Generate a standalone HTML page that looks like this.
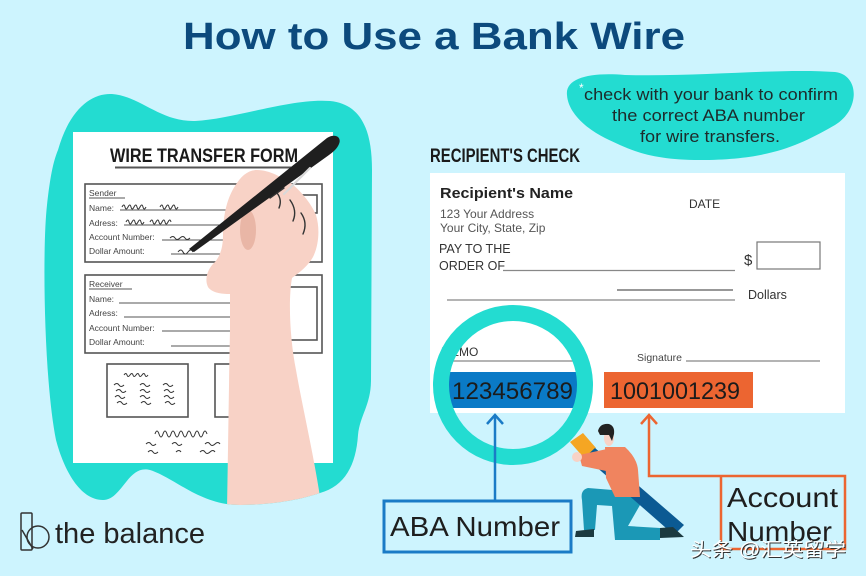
<!DOCTYPE html>
<html><head><meta charset="utf-8"><style>
html,body{margin:0;padding:0;background:#cdf4fe;}
svg{display:block;}
text{font-family:"Liberation Sans","Noto Sans CJK SC",sans-serif;}
</style></head><body>
<svg width="866" height="576" viewBox="0 0 866 576" xmlns="http://www.w3.org/2000/svg">
<defs>
<clipPath id="blobclip"><path d="M58,150 C70,108 92,93 112,94 C140,96 160,122 195,121 C235,119 290,98 330,101 C360,104 372,128 372,170 L371,380 C371,405 360,415 358,435 C356,465 345,486 320,493 C300,500 270,505 240,505 C200,505 175,478 150,470 C128,464 122,500 103,500 C80,500 64,470 56,440 C44,380 42,250 47,205 C50,178 53,162 58,150 Z"/></clipPath>
</defs>
<rect width="866" height="576" fill="#cdf4fe"/>

<!-- Title -->
<text x="183" y="49" font-size="38" font-weight="bold" fill="#0c4a7d" textLength="502" lengthAdjust="spacingAndGlyphs">How to Use a Bank Wire</text>

<!-- Left teal blob -->
<path d="M58,150 C70,108 92,93 112,94 C140,96 160,122 195,121 C235,119 290,98 330,101 C360,104 372,128 372,170 L371,380 C371,405 360,415 358,435 C356,465 345,486 320,493 C300,500 270,505 240,505 C200,505 175,478 150,470 C128,464 122,500 103,500 C80,500 64,470 56,440 C44,380 42,250 47,205 C50,178 53,162 58,150 Z" fill="#23dcd1"/>

<!-- Form paper -->
<rect x="73" y="132" width="260" height="331" fill="#ffffff"/>
<text x="110" y="162" font-size="19" font-weight="bold" fill="#1a1a1a" textLength="188" lengthAdjust="spacingAndGlyphs">WIRE TRANSFER FORM</text>
<line x1="115" y1="167.5" x2="293" y2="167.5" stroke="#555" stroke-width="2"/>

<g fill="none" stroke="#555" stroke-width="1.6">
<rect x="85" y="184" width="237" height="78"/>
<rect x="297" y="195" width="20" height="18"/>
<rect x="85" y="275" width="237" height="78"/>
<rect x="280" y="287" width="37" height="53"/>
<rect x="107" y="364" width="81" height="53"/>
<rect x="215" y="364" width="40" height="53"/>
</g>
<g font-size="8.5" fill="#444">
<text x="89" y="196">Sender</text>
<text x="89" y="211">Name:</text>
<text x="89" y="226">Adress:</text>
<text x="89" y="240">Account Number:</text>
<text x="89" y="254">Dollar Amount:</text>
<text x="89" y="287">Receiver</text>
<text x="89" y="302">Name:</text>
<text x="89" y="316">Adress:</text>
<text x="89" y="331">Account Number:</text>
<text x="89" y="345">Dollar Amount:</text>
</g>
<g stroke="#555" stroke-width="1">
<line x1="89" y1="198" x2="125" y2="198"/>
<line x1="89" y1="289" x2="132" y2="289"/>
<line x1="120" y1="210" x2="235" y2="210"/>
<line x1="124" y1="225" x2="235" y2="225"/>
<line x1="162" y1="240" x2="235" y2="240"/>
<line x1="171" y1="254" x2="235" y2="254"/>
<line x1="119" y1="303" x2="235" y2="303"/>
<line x1="124" y1="317" x2="235" y2="317"/>
<line x1="162" y1="331" x2="235" y2="331"/>
<line x1="171" y1="346" x2="235" y2="346"/>
</g>
<!-- scribbles -->
<g fill="none" stroke="#333" stroke-width="1">
<path d="M122,207 q2,-4 3,0 t3,0 t3,0 t3,0 t3,0 t3,0 t3,0 t3,0"/>
<path d="M160,207 q2,-4 3,0 t3,0 t3,0 t3,0 t3,0 t3,0"/>
<path d="M126,222 q2,-4 3,0 t3,0 t3,0 t3,0 t3,0 t3,0"/>
<path d="M150,222 q2,-4 3,0 t3,0 t3,0 t3,0 t3,0 t3,0 t3,0"/>
<path d="M170,238 q3,-3 5,0 t5,0 t5,0 t5,0"/>
<path d="M178,252 q3,-4 5,0 t5,0 t5,0"/>
<path d="M124,375 q2,-3 3,0 t3,0 t3,0 t3,0 t3,0 t3,0 t3,0 t3,0"/>
<path d="M114,385 q3,-3 5,0 t5,0"/><path d="M140,385 q3,-3 5,0 t5,0"/><path d="M163,385 q3,-3 5,0 t5,0"/>
<path d="M116,391 q3,-3 5,0 t5,0"/><path d="M140,391 q3,-3 5,0 t5,0"/><path d="M164,391 q3,-3 5,0 t5,0"/>
<path d="M115,397 q3,-3 5,0 t5,0"/><path d="M140,397 q3,-3 5,0 t5,0"/><path d="M164,397 q3,-3 5,0 t5,0"/>
<path d="M117,403 q3,-3 5,0 t5,0"/><path d="M141,403 q3,-3 5,0 t5,0"/><path d="M165,403 q3,-3 5,0 t5,0"/>
<path d="M155,434 q2,-6 4,0 t4,0 t4,0 t4,0 t4,0 t4,0 t4,0 t4,0 t4,0 t4,0 t4,0 t4,0 t4,0"/>
<path d="M146,444 q3,-3 5,0 t5,0"/><path d="M172,444 q3,-3 5,0 t5,0"/><path d="M205,444 q3,-3 5,0 t5,0 t5,0"/>
<path d="M148,452 q3,-3 5,0 t5,0"/><path d="M176,452 q3,-3 5,0"/><path d="M200,452 q3,-3 5,0 t5,0 t5,0"/>
</g>

<!-- Arm & hand -->
<g clip-path="url(#blobclip)">
<path d="M257,170 C270,170 283,178 292,184 C302,192 312,205 316,215 C320,228 319,245 313,257 C308,266 300,272 292,278 C288,300 290,340 296,370 C303,410 315,460 322,510 L227,510 C228,450 229,380 230,330 L230,294 C222,294 212,293 208,287 C204,279 208,268 215,262 C220,256 223,248 223,235 C223,218 226,200 235,186 C241,176 248,170 257,170 Z" fill="#f8d2c6"/>
</g>
<ellipse cx="248" cy="230" rx="8" ry="20" fill="#e9b6a6"/>
<g fill="none" stroke="#333" stroke-width="1.4" stroke-linecap="round">
<path d="M277,193 C281,198 281,203 279,208"/>
<path d="M290,200 C295,207 296,214 293,221"/>
<path d="M301,213 C306,220 306,227 303,234"/>
<path d="M270,198 L284,188"/>
</g>
<!-- Pen -->
<path d="M189,249 L327,138 C335,133 342,137 339,144 C337,149 333,152 329,155 L194,252 Z" fill="#1f1f1f"/>
<path d="M284,194 L310,168" stroke="#d9d9d9" stroke-width="2.2" stroke-linecap="round"/>

<!-- Speech bubble -->
<path d="M567,95 C565,78 590,72 625,75 C700,77 780,68 835,72 C860,75 860,110 835,125 C800,145 770,160 700,160 C650,160 630,150 605,138 C585,128 568,112 567,95 Z" fill="#23dcd1"/>
<text x="579" y="92" font-size="12" fill="#ffffff">*</text>
<g font-size="17" fill="#1d2b2b">
<text x="584" y="100" textLength="254" lengthAdjust="spacingAndGlyphs">check with your bank to confirm</text>
<text x="612" y="121" textLength="193" lengthAdjust="spacingAndGlyphs">the correct ABA number</text>
<text x="640" y="142" textLength="140" lengthAdjust="spacingAndGlyphs">for wire transfers.</text>
</g>

<!-- Recipient's check -->
<text x="430" y="162" font-size="19" font-weight="bold" fill="#1a1a1a" textLength="150" lengthAdjust="spacingAndGlyphs">RECIPIENT'S CHECK</text>
<rect x="430" y="173" width="415" height="240" fill="#ffffff"/>
<text x="440" y="198" font-size="15" font-weight="bold" fill="#222" textLength="133" lengthAdjust="spacingAndGlyphs">Recipient's Name</text>
<text x="440" y="218" font-size="12" fill="#555">123 Your Address</text>
<text x="440" y="232" font-size="12" fill="#555">Your City, State, Zip</text>
<text x="689" y="208" font-size="12" fill="#333">DATE</text>
<text x="439" y="253" font-size="12.5" fill="#333">PAY TO THE</text>
<text x="439" y="270" font-size="12.5" fill="#333">ORDER OF</text>
<line x1="503" y1="270.5" x2="735" y2="270.5" stroke="#888" stroke-width="1.3"/>
<text x="744" y="265" font-size="15" fill="#333">$</text>
<rect x="757" y="242" width="63" height="27" fill="none" stroke="#777" stroke-width="1.2"/>
<line x1="617" y1="290" x2="733" y2="290" stroke="#777" stroke-width="1.6"/>
<line x1="447" y1="300" x2="735" y2="300" stroke="#888" stroke-width="1.3"/>
<text x="748" y="299" font-size="12.5" fill="#333">Dollars</text>
<text x="441" y="356" font-size="12" fill="#333">MEMO</text>
<line x1="447" y1="361" x2="575" y2="361" stroke="#888" stroke-width="1.3"/>
<text x="637" y="361" font-size="10.5" fill="#444">Signature</text>
<line x1="686" y1="361" x2="820" y2="361" stroke="#888" stroke-width="1.3"/>
<rect x="448" y="372" width="130" height="36" fill="#0a7ac6"/>
<text x="452" y="399" font-size="24" fill="#1b1b1b" textLength="121" lengthAdjust="spacingAndGlyphs">123456789</text>
<rect x="604" y="372" width="149" height="36" fill="#ec6531"/>
<text x="610" y="399" font-size="24" fill="#1b1b1b" textLength="130" lengthAdjust="spacingAndGlyphs">1001001239</text>

<!-- Magnifier -->
<polygon points="570,442 583,433 596,448 584,458" fill="#f5a623"/>
<circle cx="513" cy="385" r="72" fill="none" stroke="#23dcd1" stroke-width="16"/>

<!-- ABA arrow & box -->
<g stroke="#1a7bc6" stroke-width="2.5" fill="none">
<line x1="495" y1="501" x2="495" y2="416"/>
<polyline points="487,424 495,415 503,424"/>
<rect x="384" y="501" width="187" height="51" stroke-width="3"/>
</g>
<text x="390" y="536" font-size="28" fill="#1e1e1e" textLength="170" lengthAdjust="spacingAndGlyphs">ABA Number</text>

<!-- Account arrow & box -->
<g stroke="#ec6531" stroke-width="2.5" fill="none">
<polyline points="649,416 649,476 845,476 845,549 721,549 721,476"/>
<polyline points="641,424 649,415 657,424"/>
</g>
<text x="727" y="507" font-size="28" fill="#1e1e1e" textLength="111" lengthAdjust="spacingAndGlyphs">Account</text>
<text x="727" y="541" font-size="28" fill="#1e1e1e" textLength="105" lengthAdjust="spacingAndGlyphs">Number</text>

<!-- Man -->
<path d="M638,492 L588,488 Q580,490 582,500 L584,530 L595,530 L597,505 L612,506 L615,540 L660,540 L660,528 L628,526 L640,505 Z" fill="#1b98b6"/>
<polygon points="585,457 595,448 684,525 674,535" fill="#0b5a93"/>
<path d="M605,447 L625,447 Q637,458 638,470 L640,497 L615,497 L606,478 Z" fill="#f0845f"/>
<path d="M607,449 L579,455 L582,466 L611,472 Z" fill="#f0845f"/>
<circle cx="577" cy="457" r="5" fill="#f8d2c6"/>
<ellipse cx="609" cy="438" rx="5" ry="8" fill="#f8d2c6"/>
<path d="M598,431 Q600,423 609,424 Q615,426 614,434 L612,441 L609,435 L600,435 Z" fill="#222"/>
<polygon points="576,531 594,529 594,537 575,537" fill="#1c3a40"/>
<polygon points="660,528 673,527 684,537 660,538" fill="#1c3a40"/>

<!-- Logo -->
<g fill="none" stroke="#333" stroke-width="1.5">
<rect x="21" y="513" width="11" height="37" rx="1"/>
<circle cx="38" cy="537" r="11"/>
<line x1="22" y1="530" x2="33" y2="549"/>
</g>
<text x="55" y="543" font-size="29" fill="#222" textLength="150" lengthAdjust="spacingAndGlyphs">the balance</text>

<!-- Watermark -->
<text x="691" y="557" font-size="19" fill="#333" textLength="156" lengthAdjust="spacingAndGlyphs">头条 @汇英留学</text>
<text x="690" y="556" font-size="19" fill="#ffffff" textLength="156" lengthAdjust="spacingAndGlyphs">头条 @汇英留学</text>
</svg>
</body></html>
